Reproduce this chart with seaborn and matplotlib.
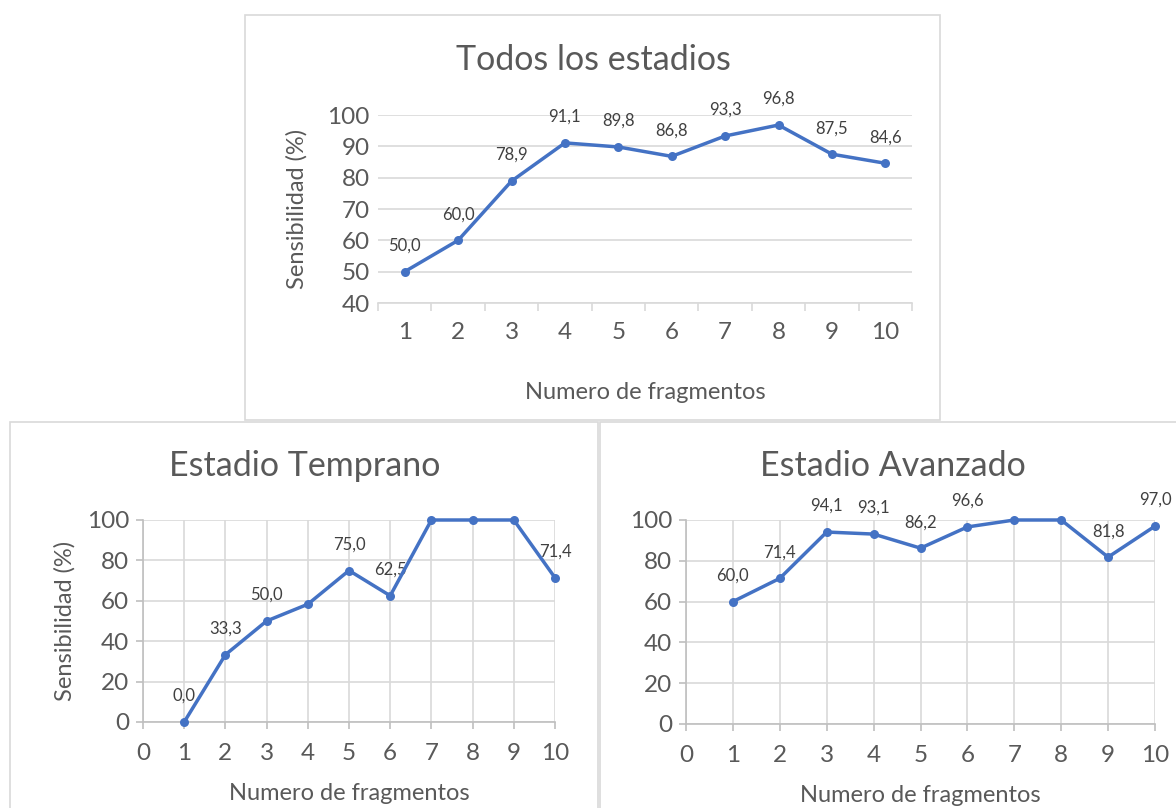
import numpy as np
import pandas as pd
import matplotlib
matplotlib.use("Agg")
import matplotlib.pyplot as plt
import seaborn as sns
from matplotlib.patches import Rectangle


# datos
fragmentos = [1, 2, 3, 4, 5, 6, 7, 8, 9, 10]

todos = [50.0, 60.0, 78.9, 91.1, 89.8, 86.8, 93.3, 96.8, 87.5, 84.6]
todos_etiquetas = ["50,0", "60,0", "78,9", "91,1", "89,8", "86,8", "93,3", "96,8", "87,5", "84,6"]

temprano = [0.0, 33.3, 50.0, 58.3, 75.0, 62.5, 100.0, 100.0, 100.0, 71.4]
temprano_etiquetas = ["0,0", "33,3", "50,0", None, "75,0", "62,5", None, None, None, "71,4"]

avanzado = [60.0, 71.4, 94.1, 93.1, 86.2, 96.6, 100.0, 100.0, 81.8, 97.0]
avanzado_etiquetas = ["60,0", "71,4", "94,1", "93,1", "86,2", "96,6", None, None, "81,8", "97,0"]

titulos = ["Todos los estadios", "Estadio Temprano", "Estadio Avanzado"]


# estilo
sns.set_theme(style="white")
plt.rcParams["font.family"] = ["Lato", "DejaVu Sans"]

AZUL = "#4472C4"
GRIS_TEXTO = "#595959"
GRIS_LINEA = "#D9D9D9"

TAM_TITULO = 24.5
TAM_EJE = 17
TAM_TICK = 17.5
TAM_DATO = 12


fig = plt.figure(figsize=(11.76, 8.08), dpi=100)


# marcos de cada panel (en pixeles de la imagen)
def marco(x0, y0, x1, y1):
    fig.patches.append(
        Rectangle(
            (x0 / 1176, 1 - y1 / 808),
            (x1 - x0) / 1176,
            (y1 - y0) / 808,
            transform=fig.transFigure,
            fill=False,
            edgecolor=GRIS_LINEA,
            linewidth=1.2
        )
    )


marco(245, 15, 940, 420)
marco(10, 422, 598, 810)
marco(600, 422, 1178, 810)


def dibujar(ax, y, etiquetas):

    df = pd.DataFrame({"x": fragmentos, "y": y})

    sns.lineplot(
        data=df,
        x="x",
        y="y",
        ax=ax,
        color=AZUL,
        linewidth=2.5,
        marker="o",
        markersize=6.5,
        markeredgewidth=0,
        clip_on=False,
        zorder=5
    )

    for xi, yi, txt in zip(fragmentos, y, etiquetas):
        if txt is None:
            continue
        ax.annotate(
            txt,
            (xi, yi),
            xytext=(0, 26),
            textcoords="offset pixels",
            ha="center",
            va="center",
            fontsize=TAM_DATO,
            color="#404040",
            annotation_clip=False
        )

    ax.set_facecolor("none")
    ax.tick_params(colors=GRIS_TEXTO, labelsize=TAM_TICK)


# ==========================
# 1. Todos los estadios
# ==========================

ax1 = fig.add_axes([378 / 1176, 1 - 303 / 808, 534 / 1176, 188 / 808])

dibujar(ax1, todos, todos_etiquetas)

ax1.set_xlim(0.5, 10.5)
ax1.set_ylim(40, 100)
ax1.set_yticks([40, 50, 60, 70, 80, 90, 100])
ax1.set_xticks(fragmentos)
ax1.set_xticks(np.arange(0.5, 11, 1), minor=True)

ax1.grid(axis="y", color=GRIS_LINEA, linewidth=1.2)
ax1.grid(axis="x", visible=False)

for lado in ["top", "right", "left"]:
    ax1.spines[lado].set_visible(False)
ax1.spines["bottom"].set_color(GRIS_LINEA)
ax1.spines["bottom"].set_linewidth(1.2)

ax1.tick_params(axis="x", which="major", length=0, pad=14)
ax1.tick_params(axis="x", which="minor", bottom=True, length=6, width=1.2, color=GRIS_LINEA)
ax1.tick_params(axis="y", length=0, pad=6)

ax1.set_xlabel("Numero de fragmentos", fontsize=TAM_EJE, color=GRIS_TEXTO, labelpad=28)
ax1.set_ylabel("Sensibilidad (%)", fontsize=TAM_EJE, color=GRIS_TEXTO, labelpad=14)

fig.text(593 / 1176, 1 - 60 / 808, titulos[0], ha="center", va="center",
         fontsize=TAM_TITULO, color=GRIS_TEXTO)


# ==========================
# 2. Estadios temprano y avanzado
# ==========================

paneles = [
    ([143 / 1176, 1 - 722 / 808, 412 / 1176, 202 / 808], temprano, temprano_etiquetas, titulos[1], 305, True),
    ([686 / 1176, 1 - 724 / 808, 469 / 1176, 204 / 808], avanzado, avanzado_etiquetas, titulos[2], 893, False),
]

for pos, y, et, t, cx, ylab in paneles:

    ax = fig.add_axes(pos)

    dibujar(ax, y, et)

    ax.set_xlim(0, 10)
    ax.set_ylim(0, 100)
    ax.set_xticks(range(0, 11))
    ax.set_yticks(range(0, 101, 20))

    ax.grid(True, color=GRIS_LINEA, linewidth=1.2)

    for lado in ["top", "right"]:
        ax.spines[lado].set_visible(False)
    for lado in ["left", "bottom"]:
        ax.spines[lado].set_color("#BFBFBF")
        ax.spines[lado].set_linewidth(1.2)

    ax.tick_params(axis="both", length=5, width=1.2, color="#BFBFBF")
    ax.tick_params(axis="x", pad=10)
    ax.tick_params(axis="y", pad=5)
    ax.tick_params(left=True, bottom=True)

    ax.set_xlabel("Numero de fragmentos", fontsize=TAM_EJE, color=GRIS_TEXTO, labelpad=14)
    if ylab:
        ax.set_ylabel("Sensibilidad (%)", fontsize=TAM_EJE, color=GRIS_TEXTO, labelpad=8)
    else:
        ax.set_ylabel("")

    fig.text(cx / 1176, 1 - 466 / 808, t, ha="center", va="center",
             fontsize=TAM_TITULO, color=GRIS_TEXTO)


plt.savefig("out.png", dpi=100)
plt.close()
